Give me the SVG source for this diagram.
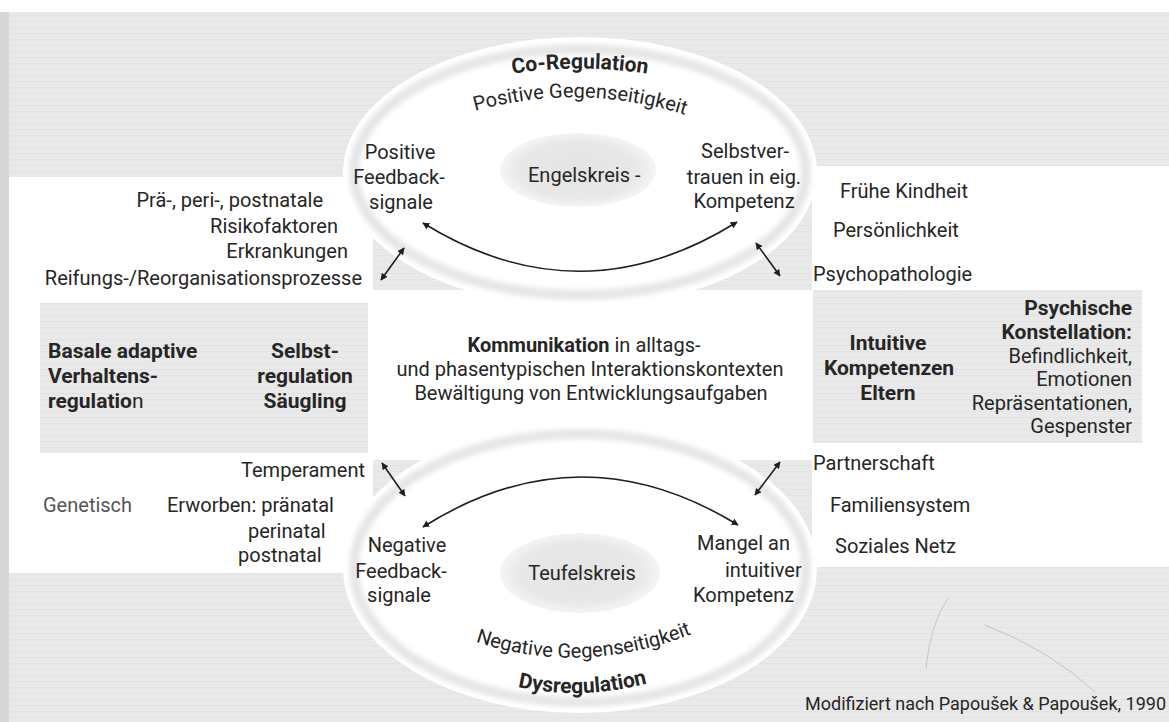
<svg xmlns="http://www.w3.org/2000/svg" width="1169" height="722" viewBox="0 0 1169 722">
<style>
text{font-family:Roboto,"Liberation Sans",sans-serif;font-size:20px;fill:#262626}
.b{font-weight:bold}
.m{text-anchor:middle}
.e{text-anchor:end}
.g{fill:#555}
.ring{fill:none;stroke:#e6e6e6;stroke-width:10;filter:url(#soft)}
.conn{fill:none;stroke:#1e1e1e;stroke-width:1.6;marker-start:url(#ah);marker-end:url(#ah)}
.pencil{fill:none;stroke:#c4c4c4;stroke-width:1}
</style>
<defs>
<marker id="ah" viewBox="0 0 10 10" refX="9" refY="5" markerWidth="7" markerHeight="7" markerUnits="userSpaceOnUse" orient="auto-start-reverse">
<path d="M0,0 L10,5 L0,10 z" fill="#1e1e1e"/>
</marker>
<filter id="soft" x="-10%" y="-10%" width="120%" height="120%">
<feGaussianBlur stdDeviation="2.5"/>
</filter>
<pattern id="scan" width="40" height="6" patternUnits="userSpaceOnUse">
<rect width="40" height="6" fill="#e9e9e9"/>
<rect y="3" width="40" height="1" fill="#e3e3e3"/>
</pattern>
<radialGradient id="core">
<stop offset="0" stop-color="#e4e4e4"/>
<stop offset="0.75" stop-color="#e8e8e8"/>
<stop offset="1" stop-color="#f4f4f4"/>
</radialGradient>
<path id="arcCo" d="M500,76 Q580,61 660,76"/>
<path id="arcPos" d="M468,113 Q580,80 692,117"/>
<path id="arcNeg" d="M465,638 Q580,681 702,630"/>
<path id="arcDys" d="M506,684 Q580,704 659,680"/>
</defs>

<g id="background">
<rect width="1169" height="722" fill="#ffffff"/>
<rect y="12" width="1169" height="710" fill="url(#scan)"/>
<rect y="12" width="9" height="710" fill="#d6d6d6"/>
<rect x="9" y="177" width="364" height="396" fill="#ffffff"/>
<rect x="40" y="303" width="328" height="150" fill="url(#scan)"/>
<rect x="812" y="166" width="357" height="401" fill="#ffffff"/>
<rect x="813" y="290" width="329" height="153" fill="url(#scan)"/>
<ellipse cx="580" cy="172" rx="237" ry="135" fill="#ffffff"/>
<ellipse cx="580" cy="568" rx="237" ry="145" fill="#ffffff"/>
<rect x="368" y="290" width="444" height="170" fill="#ffffff"/>
<ellipse class="ring" cx="580" cy="172" rx="226" ry="123"/>
<ellipse class="ring" cx="580" cy="568" rx="226" ry="134"/>
<path class="pencil" d="M948,598 Q930,625 926,668"/>
<path class="pencil" d="M985,625 Q1050,650 1095,692"/>
</g>

<g id="engelskreis">
<ellipse cx="578" cy="170" rx="78" ry="37" fill="url(#core)"/>
<text x="528" y="182">Engelskreis -</text>
</g>

<g id="teufelskreis">
<ellipse cx="580" cy="573" rx="80" ry="40" fill="url(#core)"/>
<text class="m" x="582" y="580">Teufelskreis</text>
</g>

<g id="co-regulation">
<text class="b" style="font-size:21px"><textPath href="#arcCo" startOffset="50%" text-anchor="middle">Co-Regulation</textPath></text>
<text><textPath href="#arcPos" startOffset="50%" text-anchor="middle">Positive Gegenseitigkeit</textPath></text>
</g>

<g id="positive-feedback">
<text class="m" x="400" y="159">Positive</text>
<text class="m" x="399" y="184">Feedback-</text>
<text class="m" x="401" y="209">signale</text>
</g>

<g id="selbstvertrauen">
<text class="m" x="745" y="158">Selbstver-</text>
<text class="m" x="744" y="184">trauen in eig.</text>
<text class="m" x="744" y="208">Kompetenz</text>
</g>

<g id="risikofaktoren">
<text class="e" x="323" y="207">Prä-, peri-, postnatale</text>
<text class="e" x="338" y="233">Risikofaktoren</text>
<text class="e" x="348" y="258">Erkrankungen</text>
<text class="e" x="362" y="285">Reifungs-/Reorganisationsprozesse</text>
</g>

<g id="basale-verhaltensregulation">
<text class="b" x="48" y="358" style="font-size:21px">Basale adaptive</text>
<text class="b" x="48" y="383" style="font-size:21px">Verhaltens-</text>
<text class="b" x="48" y="408" style="font-size:21px">regulatio<tspan style="font-weight:normal">n</tspan></text>
</g>

<g id="selbstregulation-saeugling">
<text class="b m" x="305" y="358" style="font-size:21px">Selbst-</text>
<text class="b m" x="305" y="383" style="font-size:21px">regulation</text>
<text class="b m" x="305" y="408" style="font-size:21px">Säugling</text>
</g>

<g id="kommunikation">
<text class="m" x="584" y="352"><tspan class="b">Kommunikation</tspan> in alltags-</text>
<text class="m" x="590" y="376">und phasentypischen Interaktionskontexten</text>
<text class="m" x="591" y="400">Bewältigung von Entwicklungsaufgaben</text>
</g>

<g id="intuitive-kompetenzen">
<text class="b m" x="888" y="350" style="font-size:21px">Intuitive</text>
<text class="b m" x="889" y="375" style="font-size:21px">Kompetenzen</text>
<text class="b m" x="888" y="400" style="font-size:21px">Eltern</text>
</g>

<g id="psychische-konstellation">
<text class="b e" x="1132" y="315" style="font-size:21px">Psychische</text>
<text class="b e" x="1132" y="339" style="font-size:21px">Konstellation:</text>
<text class="e" x="1132" y="363">Befindlichkeit,</text>
<text class="e" x="1132" y="386">Emotionen</text>
<text class="e" x="1132" y="410">Repräsentationen,</text>
<text class="e" x="1132" y="433">Gespenster</text>
</g>

<g id="eltern-faktoren-oben">
<text x="840" y="198">Frühe Kindheit</text>
<text x="833" y="237">Persönlichkeit</text>
<text x="813" y="281">Psychopathologie</text>
</g>

<g id="eltern-faktoren-unten">
<text x="813" y="470">Partnerschaft</text>
<text x="830" y="512">Familiensystem</text>
<text x="835" y="553">Soziales Netz</text>
</g>

<g id="temperament">
<text class="e" x="365" y="477">Temperament</text>
<text class="g" x="43" y="512">Genetisch</text>
<text x="167" y="512">Erworben:  pränatal</text>
<text x="248" y="538">perinatal</text>
<text x="238" y="562">postnatal</text>
</g>

<g id="negative-feedback">
<text class="m" x="407" y="552">Negative</text>
<text class="m" x="401" y="578">Feedback-</text>
<text class="m" x="399" y="602">signale</text>
</g>

<g id="mangel-kompetenz">
<text x="697" y="550">Mangel an</text>
<text x="725" y="577">intuitiver</text>
<text x="693" y="602">Kompetenz</text>
</g>

<g id="dysregulation">
<text><textPath href="#arcNeg" startOffset="50%" text-anchor="middle">Negative Gegenseitigkeit</textPath></text>
<text class="b" style="font-size:21px"><textPath href="#arcDys" startOffset="50%" text-anchor="middle">Dysregulation</textPath></text>
</g>

<g id="quelle">
<text class="e" x="1166" y="710" style="font-size:18px">Modifiziert nach Papoušek &amp; Papoušek, 1990</text>
</g>

<g id="connectors">
<path class="conn" d="M423,223 Q580,320 737,222"/>
<path class="conn" d="M423,527 Q580,428 738,525"/>
<path class="conn" d="M404,248 L381,280"/>
<path class="conn" d="M756,243 L780,276"/>
<path class="conn" d="M382,463 L405,496"/>
<path class="conn" d="M780,462 L755,495"/>
</g>
</svg>
